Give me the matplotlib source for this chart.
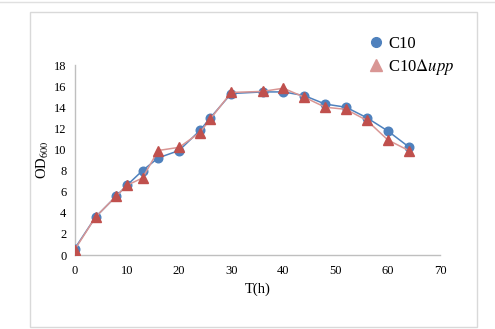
import matplotlib.pyplot as plt
from matplotlib.lines import Line2D
from matplotlib.patches import Rectangle

plt.rcParams['font.family'] = ['Liberation Serif', 'DejaVu Serif']
plt.rcParams['mathtext.fontset'] = 'stix'

# data
t_c10 = [0, 4, 8, 10, 13, 16, 20, 24, 26, 30, 36, 40, 44, 48, 52, 56, 60, 64]
od_c10 = [0.6, 3.6, 5.6, 6.6, 8.0, 9.2, 9.9, 11.8, 13.0, 15.3, 15.45, 15.45, 15.1, 14.3, 14.0, 13.0, 11.75, 10.25]
t_upp = [0, 4, 8, 10, 13, 16, 20, 24, 26, 30, 36, 40, 44, 48, 52, 56, 60, 64]
od_upp = [0.5, 3.6, 5.6, 6.6, 7.3, 9.9, 10.2, 11.6, 12.9, 15.4, 15.5, 15.8, 14.95, 14.0, 13.8, 12.75, 10.9, 9.9]

xticks = [0, 10, 20, 30, 40, 50, 60, 70]
yticks = [0, 2, 4, 6, 8, 10, 12, 14, 16, 18]

blue = '#4f81bd'
red = '#c0504d'
pink = '#d99694'

fig = plt.figure(figsize=(4.95, 3.29), dpi=100)
# outer frame
fig.add_artist(Rectangle((30 / 495, 1 - 327 / 329), 447 / 495, 315 / 329,
                         transform=fig.transFigure, fill=False,
                         edgecolor='#d9d9d9', lw=1.0))
fig.add_artist(Line2D([0, 1], [1 - 2 / 329, 1 - 2 / 329], transform=fig.transFigure,
                      color='#e0e0e0', lw=1.0))

ax = fig.add_axes([0.1509, 0.2249, 0.738, 0.5775])
ax.plot(t_c10, od_c10, color=blue, lw=1.1, marker='o', ms=6.2,
        mfc=blue, mec=blue, zorder=3)
ax.plot(t_upp, od_upp, color=pink, lw=1.1, marker='^', ms=6.8,
        mfc=red, mec=red, zorder=4)

ax.set_xlim(0, 70)
ax.set_ylim(0, 18)
ax.set_xticks(xticks)
ax.set_yticks(yticks)
ax.tick_params(length=0, labelsize=9, pad=7)
ax.tick_params(axis='y', pad=6)
for s in ['top', 'right']:
    ax.spines[s].set_visible(False)
for s in ['left', 'bottom']:
    ax.spines[s].set_color('#bfbfbf')
    ax.spines[s].set_linewidth(1.0)

ax.set_xlabel('T(h)', fontsize=10.5, labelpad=4)
ax.set_ylabel(r'OD$_{600}$', fontsize=10.5, labelpad=2)

handles = [Line2D([], [], ls='none', marker='o', ms=7, color=blue),
           Line2D([], [], ls='none', marker='^', ms=8, color=pink)]
labels = ['C10', r'C10$\Delta$$\it{upp}$']
ax.legend(handles, labels, loc='upper left', bbox_to_anchor=(0.78, 1.19),
          frameon=False, fontsize=12, handletextpad=0.1, labelspacing=0.3,
          handlelength=1.2, borderaxespad=0)

fig.savefig('out.png', dpi=100)
